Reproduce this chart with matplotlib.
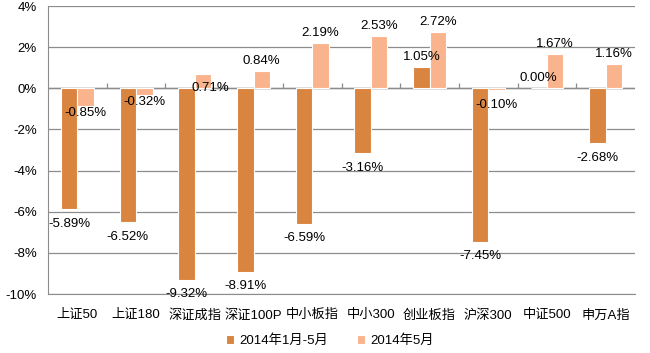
import numpy as np
import matplotlib
matplotlib.use('Agg')
import matplotlib.pyplot as plt

plt.rcParams['font.family'] = ['Liberation Sans', 'Noto Sans CJK SC', 'DejaVu Sans']

# 数据
categories = ['上证50', '上证180', '深证成指', '深证100P', '中小板指', '中小300', '创业板指', '沪深300', '中证500', '申万A指']
ytd_vals = [-5.89, -6.52, -9.32, -8.91, -6.59, -3.16, 1.05, -7.45, 0.00, -2.68]
may_vals = [-0.85, -0.32, 0.71, 0.84, 2.19, 2.53, 2.72, -0.10, 1.67, 1.16]
series_names = ['2014年1月-5月', '2014年5月']

dark = '#D9843F'
light = '#F9B48D'
grid_c = '#8C8C8C'

fig = plt.figure(figsize=(6.5, 3.53), dpi=100)
ax = fig.add_axes([0.074, 0.167, 0.903, 0.816])

x = np.arange(len(categories))
w = 0.28
ax.bar(x - w / 2, ytd_vals, w, color=dark, edgecolor='white', linewidth=0.8, label=series_names[0], zorder=3)
ax.bar(x + w / 2, may_vals, w, color=light, edgecolor='white', linewidth=0.8, label=series_names[1], zorder=3)

# 数据标签
def put_label(xi, v):
    if v < 0:
        ax.annotate(f'{v:.2f}%', (xi, v), xytext=(0, -6), textcoords='offset points',
                    ha='center', va='top', fontsize=9.5, zorder=4)
    else:
        ax.annotate(f'{v:.2f}%', (xi, v), xytext=(0, 3), textcoords='offset points',
                    ha='center', va='bottom', fontsize=9.5, zorder=4)

for xi, v in zip(x - w / 2, ytd_vals):
    put_label(xi, v)
for i, (xi, v) in enumerate(zip(x + w / 2, may_vals)):
    if categories[i] == '深证成指':
        # 这个标签在原图里被挪到零线附近
        ax.annotate(f'{v:.2f}%', (xi, 0), xytext=(5, 0), textcoords='offset points',
                    ha='center', va='center', fontsize=9.5, zorder=4)
    elif categories[i] in ('上证50', '上证180'):
        ax.annotate(f'{v:.2f}%', (xi, v), xytext=(0, -1), textcoords='offset points',
                    ha='center', va='top', fontsize=9.5, zorder=4)
    else:
        put_label(xi, v)

ax.set_xlim(-0.5, len(categories) - 0.5)
ax.set_ylim(-10, 4)
ax.set_yticks(np.arange(-10, 5, 2))
ax.set_yticklabels([f'{t}%' for t in range(-10, 5, 2)], fontsize=9.5)
ax.set_xticks(x)
ax.set_xticklabels(categories, fontsize=9.5)
ax.tick_params(axis='x', length=0, pad=11)
ax.tick_params(axis='y', length=0, pad=8)

ax.yaxis.grid(True, color=grid_c, linewidth=0.9, zorder=0)
for s in ['top', 'right']:
    ax.spines[s].set_visible(False)
ax.spines['left'].set_color(grid_c)
ax.spines['bottom'].set_color(grid_c)

# 零轴和刻度
ax.axhline(0, color=grid_c, linewidth=1.0, zorder=2)
ax.vlines(np.arange(0.5, len(categories) - 0.5, 1), 0, 0.28, color=grid_c, linewidth=0.9, zorder=2)

ax.legend(loc='upper center', bbox_to_anchor=(0.48, -0.14), ncol=2, frameon=False,
          fontsize=9.5, handlelength=0.6, handleheight=0.6, columnspacing=2.2, handletextpad=0.4,
          borderpad=0, borderaxespad=0)

fig.savefig('out.png', dpi=100)
